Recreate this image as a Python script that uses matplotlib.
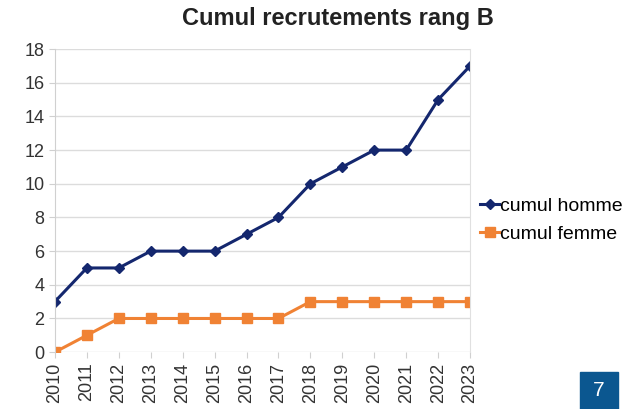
import matplotlib.pyplot as plt
from matplotlib.patches import Rectangle

plt.rcParams['font.family'] = ['Liberation Sans', 'DejaVu Sans']

years = ['2010', '2011', '2012', '2013', '2014', '2015', '2016',
         '2017', '2018', '2019', '2020', '2021', '2022', '2023']
cumul_homme = [3, 5, 5, 6, 6, 6, 7, 8, 10, 11, 12, 12, 15, 17]
cumul_femme = [0, 1, 2, 2, 2, 2, 2, 2, 3, 3, 3, 3, 3, 3]

fig = plt.figure(figsize=(6.31, 4.09), dpi=100)
ax = fig.add_axes([0.087, 0.139, 0.658, 0.741])

x = list(range(len(years)))
ax.plot(x, cumul_homme, color='#14276e', lw=2.2, marker='D', ms=5.5,
        label='cumul homme')
ax.plot(x, cumul_femme, color='#f08234', lw=2.2, marker='s', ms=7,
        label='cumul femme')

ax.set_xlim(0, len(years) - 1)
ax.set_ylim(0, 18)
ax.set_yticks(range(0, 19, 2))
ax.set_xticks(x)
ax.set_xticklabels(years, rotation=90)
ax.tick_params(axis='both', labelsize=13, colors='#333333', length=4,
               color='#d0d0d0')
ax.grid(axis='y', color='#dcdcdc', lw=1)
ax.set_axisbelow(True)
for s in ['top', 'bottom']:
    ax.spines[s].set_visible(False)
ax.spines['left'].set_color('#d0d0d0')
ax.spines['right'].set_color('#e0e0e0')

# titre centre sur toute la zone du graphique
fig.text(338 / 631, 1 - 18 / 409, 'Cumul recrutements rang B', fontsize=17,
         fontweight='bold', color='#222222', ha='center', va='center')

ax.legend(loc='center left', bbox_to_anchor=(1.0, 0.436), frameon=False,
          fontsize=14, handlelength=1.0, handletextpad=0.05,
          labelspacing=0.55, borderaxespad=0.1)

fig.patches.append(Rectangle((580 / 631, 0), 38 / 631, 37 / 409,
                             transform=fig.transFigure, color='#0b5790'))
fig.text(599 / 631, 18 / 409, '7', color='white', fontsize=15,
         ha='center', va='center')

fig.savefig('out.png', dpi=100)
